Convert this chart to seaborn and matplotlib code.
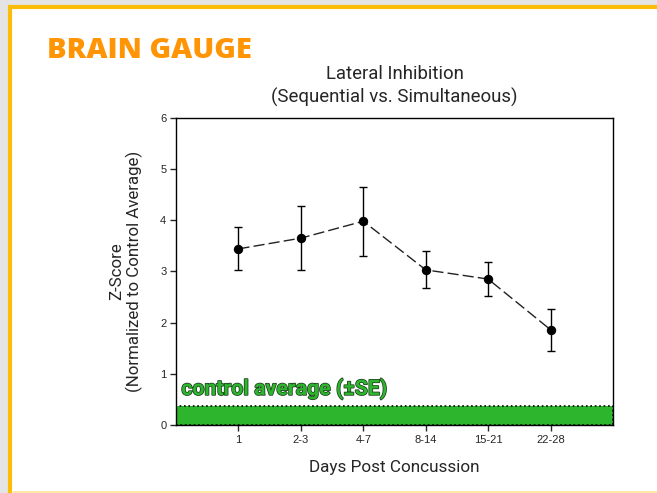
import pandas as pd
import matplotlib.pyplot as plt
import matplotlib.patheffects as pe
import matplotlib.transforms as mtransforms
from matplotlib.patches import Rectangle
import seaborn as sns

# --- Datos ---
days = ["1", "2-3", "4-7", "8-14", "15-21", "22-28"]
zscore = [3.44, 3.65, 3.98, 3.03, 2.85, 1.86]
se = [0.42, 0.62, 0.67, 0.36, 0.33, 0.41]
control_low = 0.0
control_high = 0.38

df = pd.DataFrame({"days": days, "zscore": zscore, "se": se})

sns.set_style("white")
plt.rcParams["font.family"] = ["Liberation Sans", "DejaVu Sans"]

fig = plt.figure(figsize=(6.57, 4.93), dpi=100)

# --- Marco tipo diapositiva ---
fig.patches.append(Rectangle((0, 0), 1, 1, transform=fig.transFigure,
                             facecolor="#e4e4e4", edgecolor="none", zorder=-3))
fig.patches.append(Rectangle((0.0155, -0.01), 1.0, 0.995, transform=fig.transFigure,
                             facecolor="white", edgecolor="#fbbd08", linewidth=3, zorder=-2))
fig.patches.append(Rectangle((0.02, 0.0), 1.0, 0.004, transform=fig.transFigure,
                             facecolor="#fde9a6", edgecolor="none", zorder=-1))

fig.text(0.071, 0.897, "BRAIN GAUGE", fontsize=21, fontweight="heavy",
         color="#ff9405", family="Open Sans", va="center")

ax = fig.add_axes([0.268, 0.138, 0.665, 0.623])

# banda del control
ax.axhspan(control_low, control_high, facecolor="#2db52d", edgecolor="black",
           linestyle=":", linewidth=1.2, zorder=1)
trans = mtransforms.blended_transform_factory(ax.transAxes, ax.transData)
ax.text(0.012, 0.70, "control average (\u00b1SE)", fontsize=15.3, fontweight="bold",
        color="#2db52d", family="Roboto", va="center", ha="left", transform=trans,
        path_effects=[pe.withStroke(linewidth=1.1, foreground="#1f3d1f")], zorder=3)

sns.pointplot(data=df, x="days", y="zscore", color="black", linestyles="--",
              linewidth=1, markers="o", markersize=6, errorbar=None, ax=ax, zorder=4)
for ln in ax.lines:
    ln.set_dashes((8, 3))
    ln.set_color("#222222")
    ln.set_markerfacecolor("black")
    ln.set_markeredgecolor("black")
ax.errorbar(range(len(days)), df["zscore"], yerr=df["se"], fmt="none",
            ecolor="black", elinewidth=1, capsize=3, capthick=1, zorder=3)

ax.set_xlim(-1, len(days))
ax.set_ylim(0, 6)
ax.set_yticks(range(0, 7))
ax.tick_params(axis="both", labelsize=8, direction="out", length=4, width=1,
               bottom=True, left=True, pad=3)
for s in ax.spines.values():
    s.set_color("black")
    s.set_linewidth(1)

ax.set_xlabel("Days Post Concussion", fontsize=12.3, family="Roboto", labelpad=11)
ax.set_ylabel("Z-Score\n(Normalized to Control Average)", fontsize=12.2,
              family="Roboto", labelpad=12, linespacing=1.15)
ax.set_title("Lateral Inhibition\n(Sequential vs. Simultaneous)", fontsize=13.4,
             family="Roboto", pad=11, linespacing=1.3)

fig.savefig("out.png", dpi=100)
